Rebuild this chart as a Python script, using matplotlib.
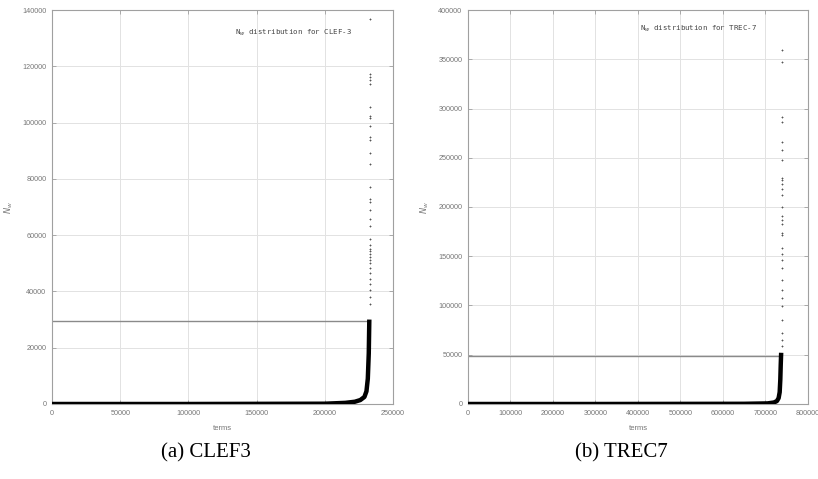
import matplotlib
matplotlib.use("Agg")
import matplotlib.pyplot as plt

# CLEF-3: sorted N_w curve (knots) and the sparse tail
clef_curve_x = [0, 100000, 200000, 215000, 222000, 226000, 229000, 230500, 231500, 232200, 232600]
clef_curve_y = [0, 0, 100, 400, 800, 1400, 2500, 4500, 9000, 18000, 30000]
clef_tail_x = [233000] * 34
clef_tail_y = [136800, 117300, 116100, 115000, 113800, 105500, 102200, 101700, 98900, 94900,
               93700, 89300, 85200, 77200, 72700, 71600, 68900, 65700, 63400, 58800,
               56500, 55200, 54200, 53300, 52400, 51200, 50000, 48300, 46500, 44500,
               42600, 40600, 38000, 35500]
clef_mean = 29600
clef_xticks = [0, 50000, 100000, 150000, 200000, 250000]
clef_yticks = [0, 20000, 40000, 60000, 80000, 100000, 120000, 140000]

# TREC-7
trec_curve_x = [0, 300000, 650000, 705000, 720000, 727000, 731000, 733500, 735000, 736000, 737000]
trec_curve_y = [0, 0, 200, 600, 1500, 3000, 6000, 12000, 25000, 40000, 52000]
trec_tail_x = [739000] * 30
trec_tail_y = [359800, 347000, 291200, 286100, 265900, 257400, 248000, 229400, 227000, 223600,
               218600, 212500, 200000, 190500, 186500, 183100, 174000, 171300, 158700, 152700,
               146000, 137600, 125800, 115800, 107400, 99000, 85600, 72200, 65000, 58800]
trec_mean = 49000
trec_xticks = [0, 100000, 200000, 300000, 400000, 500000, 600000, 700000, 800000]
trec_yticks = [0, 50000, 100000, 150000, 200000, 250000, 300000, 350000, 400000]

fig = plt.figure(figsize=(8.18, 4.79), dpi=100)
ax1 = fig.add_axes([0.0636, 0.1566, 0.4169, 0.8225])
ax2 = fig.add_axes([0.5721, 0.1566, 0.4156, 0.8225])


def draw_panel(ax, cx, cy, tx, ty, mean, xticks, yticks, title, title_x, title_y, caption):
    ax.plot([0, cx[-1]], [mean, mean], color="#8a8a8a", lw=1.0, zorder=2)
    ax.plot(cx, cy, color="black", lw=3.2, solid_capstyle="butt", zorder=3)
    ax.plot(tx, ty, linestyle="none", marker="+", ms=2, mew=0.6, color="#555555", zorder=3)

    ax.set_xlim(xticks[0], xticks[-1])
    ax.set_ylim(yticks[0], yticks[-1])
    ax.set_xticks(xticks)
    ax.set_yticks(yticks)
    ax.set_xticklabels([str(t) for t in xticks])
    ax.set_yticklabels([str(t) for t in yticks])
    ax.grid(True, color="#e2e2e2", lw=0.7)
    ax.set_axisbelow(True)
    for s in ax.spines.values():
        s.set_color("#a0a0a0")
        s.set_linewidth(0.8)
    ax.tick_params(direction="in", top=True, right=True, length=3, width=0.6,
                   color="#a0a0a0", labelcolor="#777777", labelsize=5.2, pad=4)
    for lab in ax.get_xticklabels() + ax.get_yticklabels():
        lab.set_family("Liberation Sans")

    ax.set_xlabel("terms", fontsize=5.5, color="#777777", labelpad=6, family="Liberation Sans")
    ax.set_ylabel(r"$N_w$", fontsize=6, color="#777777", labelpad=5)
    ax.text(title_x, title_y, title, transform=ax.transAxes, ha="right", va="center",
            fontsize=5.3, family="DejaVu Sans Mono", color="#444444")
    ax.text(0.45, -0.125, caption, transform=ax.transAxes, ha="center", va="center",
            fontsize=15, family="Liberation Serif")


draw_panel(ax1, clef_curve_x, clef_curve_y, clef_tail_x, clef_tail_y, clef_mean,
           clef_xticks, clef_yticks, r"N$_w$ distribution for CLEF-3", 0.88, 0.942, "(a) CLEF3")
draw_panel(ax2, trec_curve_x, trec_curve_y, trec_tail_x, trec_tail_y, trec_mean,
           trec_xticks, trec_yticks, r"N$_w$ distribution for TREC-7", 0.85, 0.952, "(b) TREC7")

fig.savefig("out.png", dpi=100)
